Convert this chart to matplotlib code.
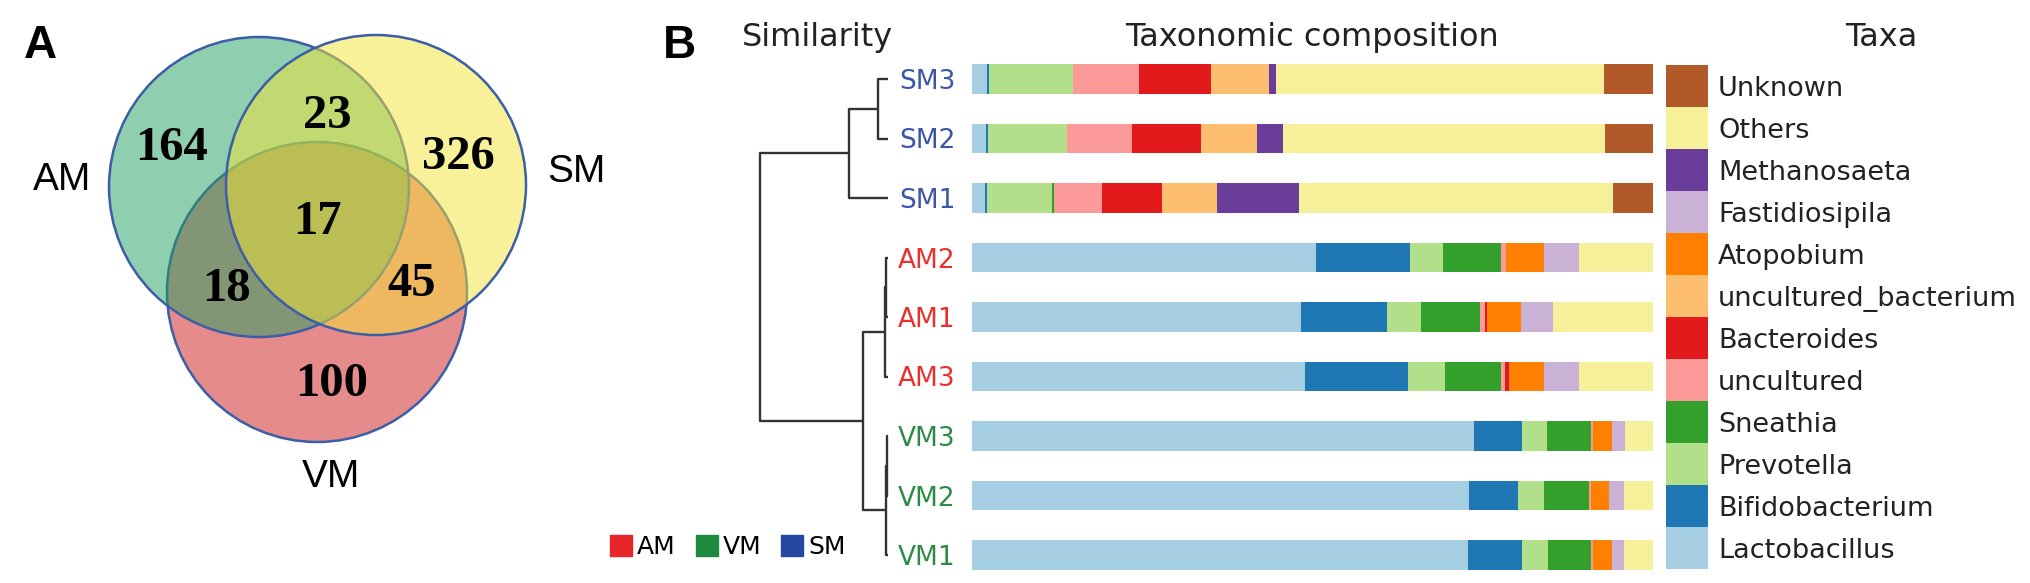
import matplotlib
matplotlib.use("Agg")
import matplotlib.pyplot as plt
from matplotlib.patches import Circle, Patch
import numpy as np

W, H = 2031, 583

# ---- Venn counts (panel A) ----
venn_labels = ["AM", "SM", "VM"]
venn_counts = {"AM": 164, "SM": 326, "VM": 100,
               "AM_SM": 23, "AM_VM": 18, "SM_VM": 45, "ALL": 17}

# ---- taxonomic composition (panel B), % per sample ----
samples = ["SM3", "SM2", "SM1", "AM2", "AM1", "AM3", "VM3", "VM2", "VM1"]
sample_colors = ["#3c56a6"] * 3 + ["#e8302c"] * 3 + ["#2e8b46"] * 3

lactobacillus = [2.3, 2.1, 2.0, 50.5, 48.3, 48.9, 73.7, 72.9, 72.8]
bifidobacterium = [0.3, 0.25, 0.25, 13.8, 12.7, 15.1, 7.0, 7.3, 7.9]
prevotella = [12.2, 11.7, 9.5, 4.8, 4.9, 5.4, 3.7, 3.8, 3.9]
sneathia = [0.0, 0.0, 0.3, 8.5, 8.7, 8.2, 6.5, 6.5, 6.3]
uncultured = [9.7, 9.4, 7.1, 0.8, 0.7, 0.7, 0.3, 0.35, 0.3]
bacteroides = [10.6, 10.2, 8.8, 0.0, 0.25, 0.6, 0.0, 0.0, 0.0]
uncultured_bacterium = [8.5, 8.2, 8.1, 0.0, 0.0, 0.0, 0.0, 0.0, 0.0]
atopobium = [0.0, 0.0, 0.0, 5.6, 5.1, 5.1, 2.8, 2.7, 2.7]
fastidiosipila = [0.0, 0.0, 0.0, 5.1, 4.7, 5.1, 1.8, 2.1, 1.8]
methanosaeta = [1.1, 3.8, 12.0, 0.0, 0.0, 0.0, 0.0, 0.0, 0.0]
others = [48.1, 47.2, 46.1, 10.9, 14.6, 10.9, 4.2, 4.4, 4.3]
unknown = [7.3, 7.2, 5.9, 0.0, 0.0, 0.0, 0.0, 0.0, 0.0]

taxa_names = ["Lactobacillus", "Bifidobacterium", "Prevotella", "Sneathia",
              "uncultured", "Bacteroides", "uncultured_bacterium", "Atopobium",
              "Fastidiosipila", "Methanosaeta", "Others", "Unknown"]
taxa_values = [lactobacillus, bifidobacterium, prevotella, sneathia, uncultured,
               bacteroides, uncultured_bacterium, atopobium, fastidiosipila,
               methanosaeta, others, unknown]
taxa_colors = ["#a6cee3", "#1f78b4", "#b2df8a", "#33a02c", "#fb9a99", "#e31a1c",
               "#fdbf6f", "#ff7f00", "#cab2d6", "#6a3d9a", "#f6f09b", "#b15928"]

# ---- dendrogram (leaf index = row in samples) ----
link_a = [0, 9, 3, 11, 6, 13, 12, 10]
link_b = [1, 2, 4, 5, 7, 8, 14, 15]
link_h = [0.082, 0.305, 0.012, 0.027, 0.006, 0.016, 0.195, 1.0]

group_names = ["AM", "VM", "SM"]
group_colors = ["#e8262a", "#1e8a3e", "#2448a0"]


def fx(px):
    return px / W


def fy(px):
    return 1 - px / H


fig = plt.figure(figsize=(W / 100, H / 100), dpi=100)

# ================= panel A: Venn =================
ax_v = fig.add_axes([0, 0, 650 / W, 1])
ax_v.set_xlim(0, 650)
ax_v.set_ylim(H, 0)
ax_v.axis("off")

edge = "#3b5ea6"
circles = {"VM": ((317, 292), "#cd1919"),
           "AM": ((259, 187), "#219f61"),
           "SM": ((376, 185), "#f5e537")}
for name in ["VM", "AM", "SM"]:
    (cx, cy), col = circles[name]
    ax_v.add_patch(Circle((cx, cy), 150, facecolor=matplotlib.colors.to_rgba(col, 0.5),
                          edgecolor=edge, linewidth=1.8))

num_font = dict(family="Liberation Serif", weight="bold", fontsize=35,
                ha="center", va="baseline")
num_pos = {"AM": (172, 160), "AM_SM": (327, 128), "SM": (458, 169),
           "ALL": (317, 234), "AM_VM": (226, 301), "SM_VM": (412, 296),
           "VM": (332, 396)}
for key, (x, y) in num_pos.items():
    ax_v.text(x, y, str(venn_counts[key]), **num_font)

lab_pos = {"AM": (62, 190), "SM": (576, 182), "VM": (331, 487)}
for name in venn_labels:
    x, y = lab_pos[name]
    ax_v.text(x, y, name, family="Liberation Sans", fontsize=28,
              ha="center", va="baseline")

fig.text(fx(40), fy(58), "A", family="Liberation Sans", weight="bold",
         fontsize=33, ha="center", va="baseline")
fig.text(fx(679), fy(58), "B", family="Liberation Sans", weight="bold",
         fontsize=33, ha="center", va="baseline")

# ================= panel B: bars =================
top_px = 49.25
ylo = (H - 79) / 59.5
ax_b = fig.add_axes([fx(971.7), 0, fx(1653.3) - fx(971.7), 1 - top_px / H])
ax_b.set_ylim(ylo, -0.5)
ax_b.set_xlim(0, 100)
rows = np.arange(len(samples))
left = np.zeros(len(samples))
for vals, col in zip(taxa_values, taxa_colors):
    vals = np.array(vals)
    ax_b.barh(rows, vals, left=left, height=0.5, color=col, linewidth=0)
    left += vals
for s in ax_b.spines.values():
    s.set_visible(False)
ax_b.set_xticks([])
ax_b.set_yticks(rows)
ax_b.set_yticklabels(samples)
ax_b.tick_params(axis="y", length=0, pad=11.5, labelsize=19)
for lbl, c in zip(ax_b.get_yticklabels(), sample_colors):
    lbl.set_color(c)

# dendrogram
ax_d = fig.add_axes([fx(760), 0, fx(888) - fx(760), 1 - top_px / H])
ax_d.set_ylim(ylo, -0.5)
ax_d.set_xlim(1.0, 0.0)
ax_d.axis("off")
node_y = list(rows.astype(float))
node_h = [0.0] * len(samples)
for a, b, h in zip(link_a, link_b, link_h):
    ya, yb = node_y[a], node_y[b]
    ax_d.plot([node_h[a], h, h, node_h[b]], [ya, ya, yb, yb],
              color="#333333", lw=1.7, clip_on=False, solid_capstyle="butt")
    node_y.append((ya + yb) / 2)
    node_h.append(h)

# titles
fig.text(fx(893), fy(46), "Similarity", fontsize=23, ha="right", va="baseline",
         color="#222222")
fig.text(fx(1312.5), fy(46), "Taxonomic composition", fontsize=23, ha="center",
         va="baseline", color="#222222")
fig.text(fx(1881), fy(46), "Taxa", fontsize=23, ha="center", va="baseline",
         color="#222222")

# taxa legend
ax_l = fig.add_axes([fx(1666), fy(569), fx(1708) - fx(1666), (569 - 65) / H])
ax_l.set_xlim(0, 1)
ax_l.set_ylim(-0.5, len(taxa_names) - 0.5)
ax_l.axis("off")
ax_l.barh(np.arange(len(taxa_names)), 1, height=1.0, color=taxa_colors, linewidth=0)
for i, name in enumerate(taxa_names):
    ax_l.text(1.24, i, name, fontsize=19.5, va="center_baseline", ha="left",
              color="#222222", clip_on=False)

# group legend
handles = [Patch(color=c, label=n) for n, c in zip(group_names, group_colors)]
fig.legend(handles=handles, ncol=3, loc="center left",
           bbox_to_anchor=(fx(610), fy(547)), frameon=False, fontsize=18,
           handlelength=0.88, handleheight=0.88, handletextpad=0.2,
           columnspacing=0.8, borderpad=0, borderaxespad=0)

fig.savefig("out.png", dpi=100)
